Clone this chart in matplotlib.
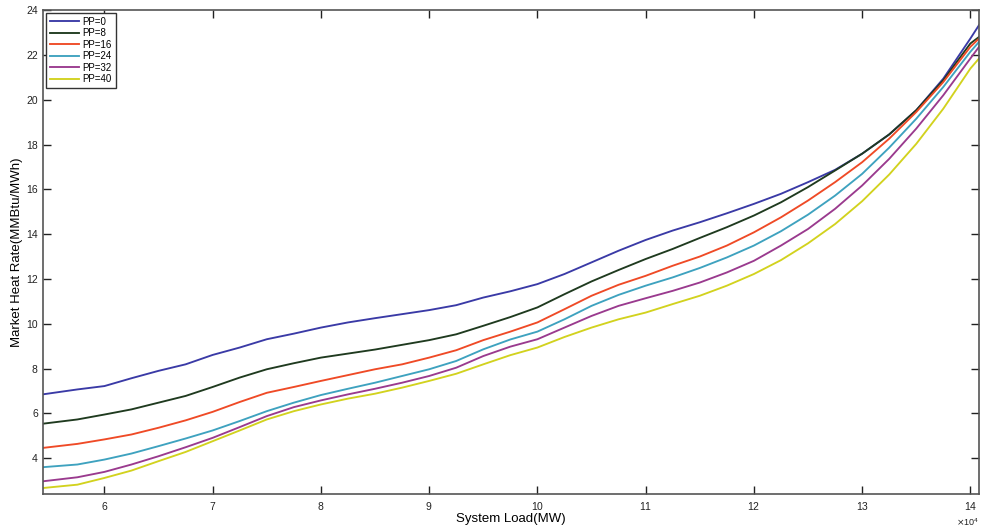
import numpy as np
import matplotlib
matplotlib.use("Agg")
import matplotlib.pyplot as plt
from matplotlib.ticker import ScalarFormatter

# System load sample points (MW)
load = [54300, 57500, 60000, 62500, 65000, 67500, 70000, 72500, 75000, 77500,
        80000, 82500, 85000, 87500, 90000, 92500, 95000, 97500, 100000, 102500,
        105000, 107500, 110000, 112500, 115000, 117500, 120000, 122500, 125000, 127500,
        130000, 132500, 135000, 137500, 140000, 140800]

# Market heat rate (MMBtu/MWh) for each price-parameter case
pp0 = [6.85, 7.07, 7.22, 7.57, 7.9, 8.19, 8.61, 8.94, 9.31, 9.56,
       9.83, 10.06, 10.25, 10.43, 10.61, 10.83, 11.17, 11.45, 11.77, 12.22,
       12.74, 13.26, 13.74, 14.16, 14.53, 14.93, 15.35, 15.8, 16.32, 16.87,
       17.59, 18.45, 19.53, 20.94, 22.73, 23.33]
pp8 = [5.54, 5.73, 5.95, 6.18, 6.48, 6.78, 7.18, 7.6, 7.97, 8.24,
       8.49, 8.67, 8.85, 9.06, 9.27, 9.53, 9.91, 10.3, 10.73, 11.32,
       11.89, 12.4, 12.89, 13.34, 13.83, 14.31, 14.83, 15.42, 16.1, 16.84,
       17.59, 18.45, 19.53, 20.87, 22.51, 22.8]
pp16 = [4.46, 4.64, 4.84, 5.06, 5.36, 5.69, 6.07, 6.51, 6.92, 7.18,
        7.45, 7.71, 7.97, 8.19, 8.49, 8.82, 9.27, 9.65, 10.06, 10.65,
        11.25, 11.74, 12.14, 12.59, 13.0, 13.49, 14.08, 14.75, 15.5, 16.32,
        17.21, 18.26, 19.45, 20.79, 22.36, 22.73]
pp24 = [3.6, 3.72, 3.94, 4.21, 4.54, 4.88, 5.24, 5.66, 6.1, 6.48,
        6.82, 7.1, 7.37, 7.67, 7.97, 8.34, 8.86, 9.3, 9.65, 10.2,
        10.8, 11.29, 11.7, 12.07, 12.49, 12.96, 13.49, 14.13, 14.87, 15.72,
        16.69, 17.86, 19.15, 20.57, 22.14, 22.58]
pp32 = [2.97, 3.15, 3.39, 3.72, 4.09, 4.49, 4.91, 5.39, 5.88, 6.28,
        6.58, 6.85, 7.1, 7.37, 7.67, 8.04, 8.56, 8.98, 9.31, 9.83,
        10.35, 10.8, 11.14, 11.47, 11.84, 12.29, 12.81, 13.49, 14.23, 15.13,
        16.17, 17.36, 18.71, 20.2, 21.84, 22.36]
pp40 = [2.67, 2.82, 3.12, 3.45, 3.87, 4.28, 4.76, 5.24, 5.73, 6.1,
        6.4, 6.66, 6.88, 7.15, 7.45, 7.77, 8.19, 8.6, 8.94, 9.41,
        9.83, 10.2, 10.5, 10.88, 11.25, 11.7, 12.22, 12.84, 13.59, 14.45,
        15.47, 16.66, 18.03, 19.6, 21.39, 21.84]

labels = ["PP=0", "PP=8", "PP=16", "PP=24", "PP=32", "PP=40"]
colors = ["#3a3aa6", "#1f3a1f", "#ef4a26", "#3ea2bf", "#9a3a8e", "#d2d21e"]

plt.rcParams["font.family"] = ["Liberation Sans", "DejaVu Sans"]

fig = plt.figure(figsize=(9.82, 5.29), dpi=100)
ax = fig.add_axes([0.0435, 0.066, 0.9535, 0.915])

for ys, lab, c in zip([pp0, pp8, pp16, pp24, pp32, pp40], labels, colors):
    ax.plot(load, ys, color=c, lw=1.35, label=lab)

ax.set_xlim(54300, 140800)
ax.set_ylim(2.4, 24)
ax.set_xticks(np.arange(60000, 140001, 10000))
ax.set_yticks(np.arange(4, 25, 2))
fmt = ScalarFormatter(useMathText=True)
fmt.set_powerlimits((4, 4))
ax.xaxis.set_major_formatter(fmt)
ax.xaxis.get_offset_text().set_fontsize(6.5)

ax.tick_params(direction="in", length=6, width=1, labelsize=7.5,
               top=True, right=True, colors="#222222")
ax.tick_params(axis="x", pad=4)
for s in ax.spines.values():
    s.set_color("#555555")
    s.set_linewidth(1.2)

ax.set_xlabel("System Load(MW)", fontsize=9.5, labelpad=1)
ax.set_ylabel("Market Heat Rate(MMBtu/MWh)", fontsize=9.5, labelpad=2)

leg = ax.legend(loc="upper left", fontsize=7, handlelength=3.0,
                labelspacing=0.15, borderpad=0.4, handletextpad=0.4,
                fancybox=False, framealpha=1, borderaxespad=0.3)
leg.get_frame().set_edgecolor("#333333")
leg.get_frame().set_linewidth(1.0)

fig.savefig("out.png", dpi=100)
